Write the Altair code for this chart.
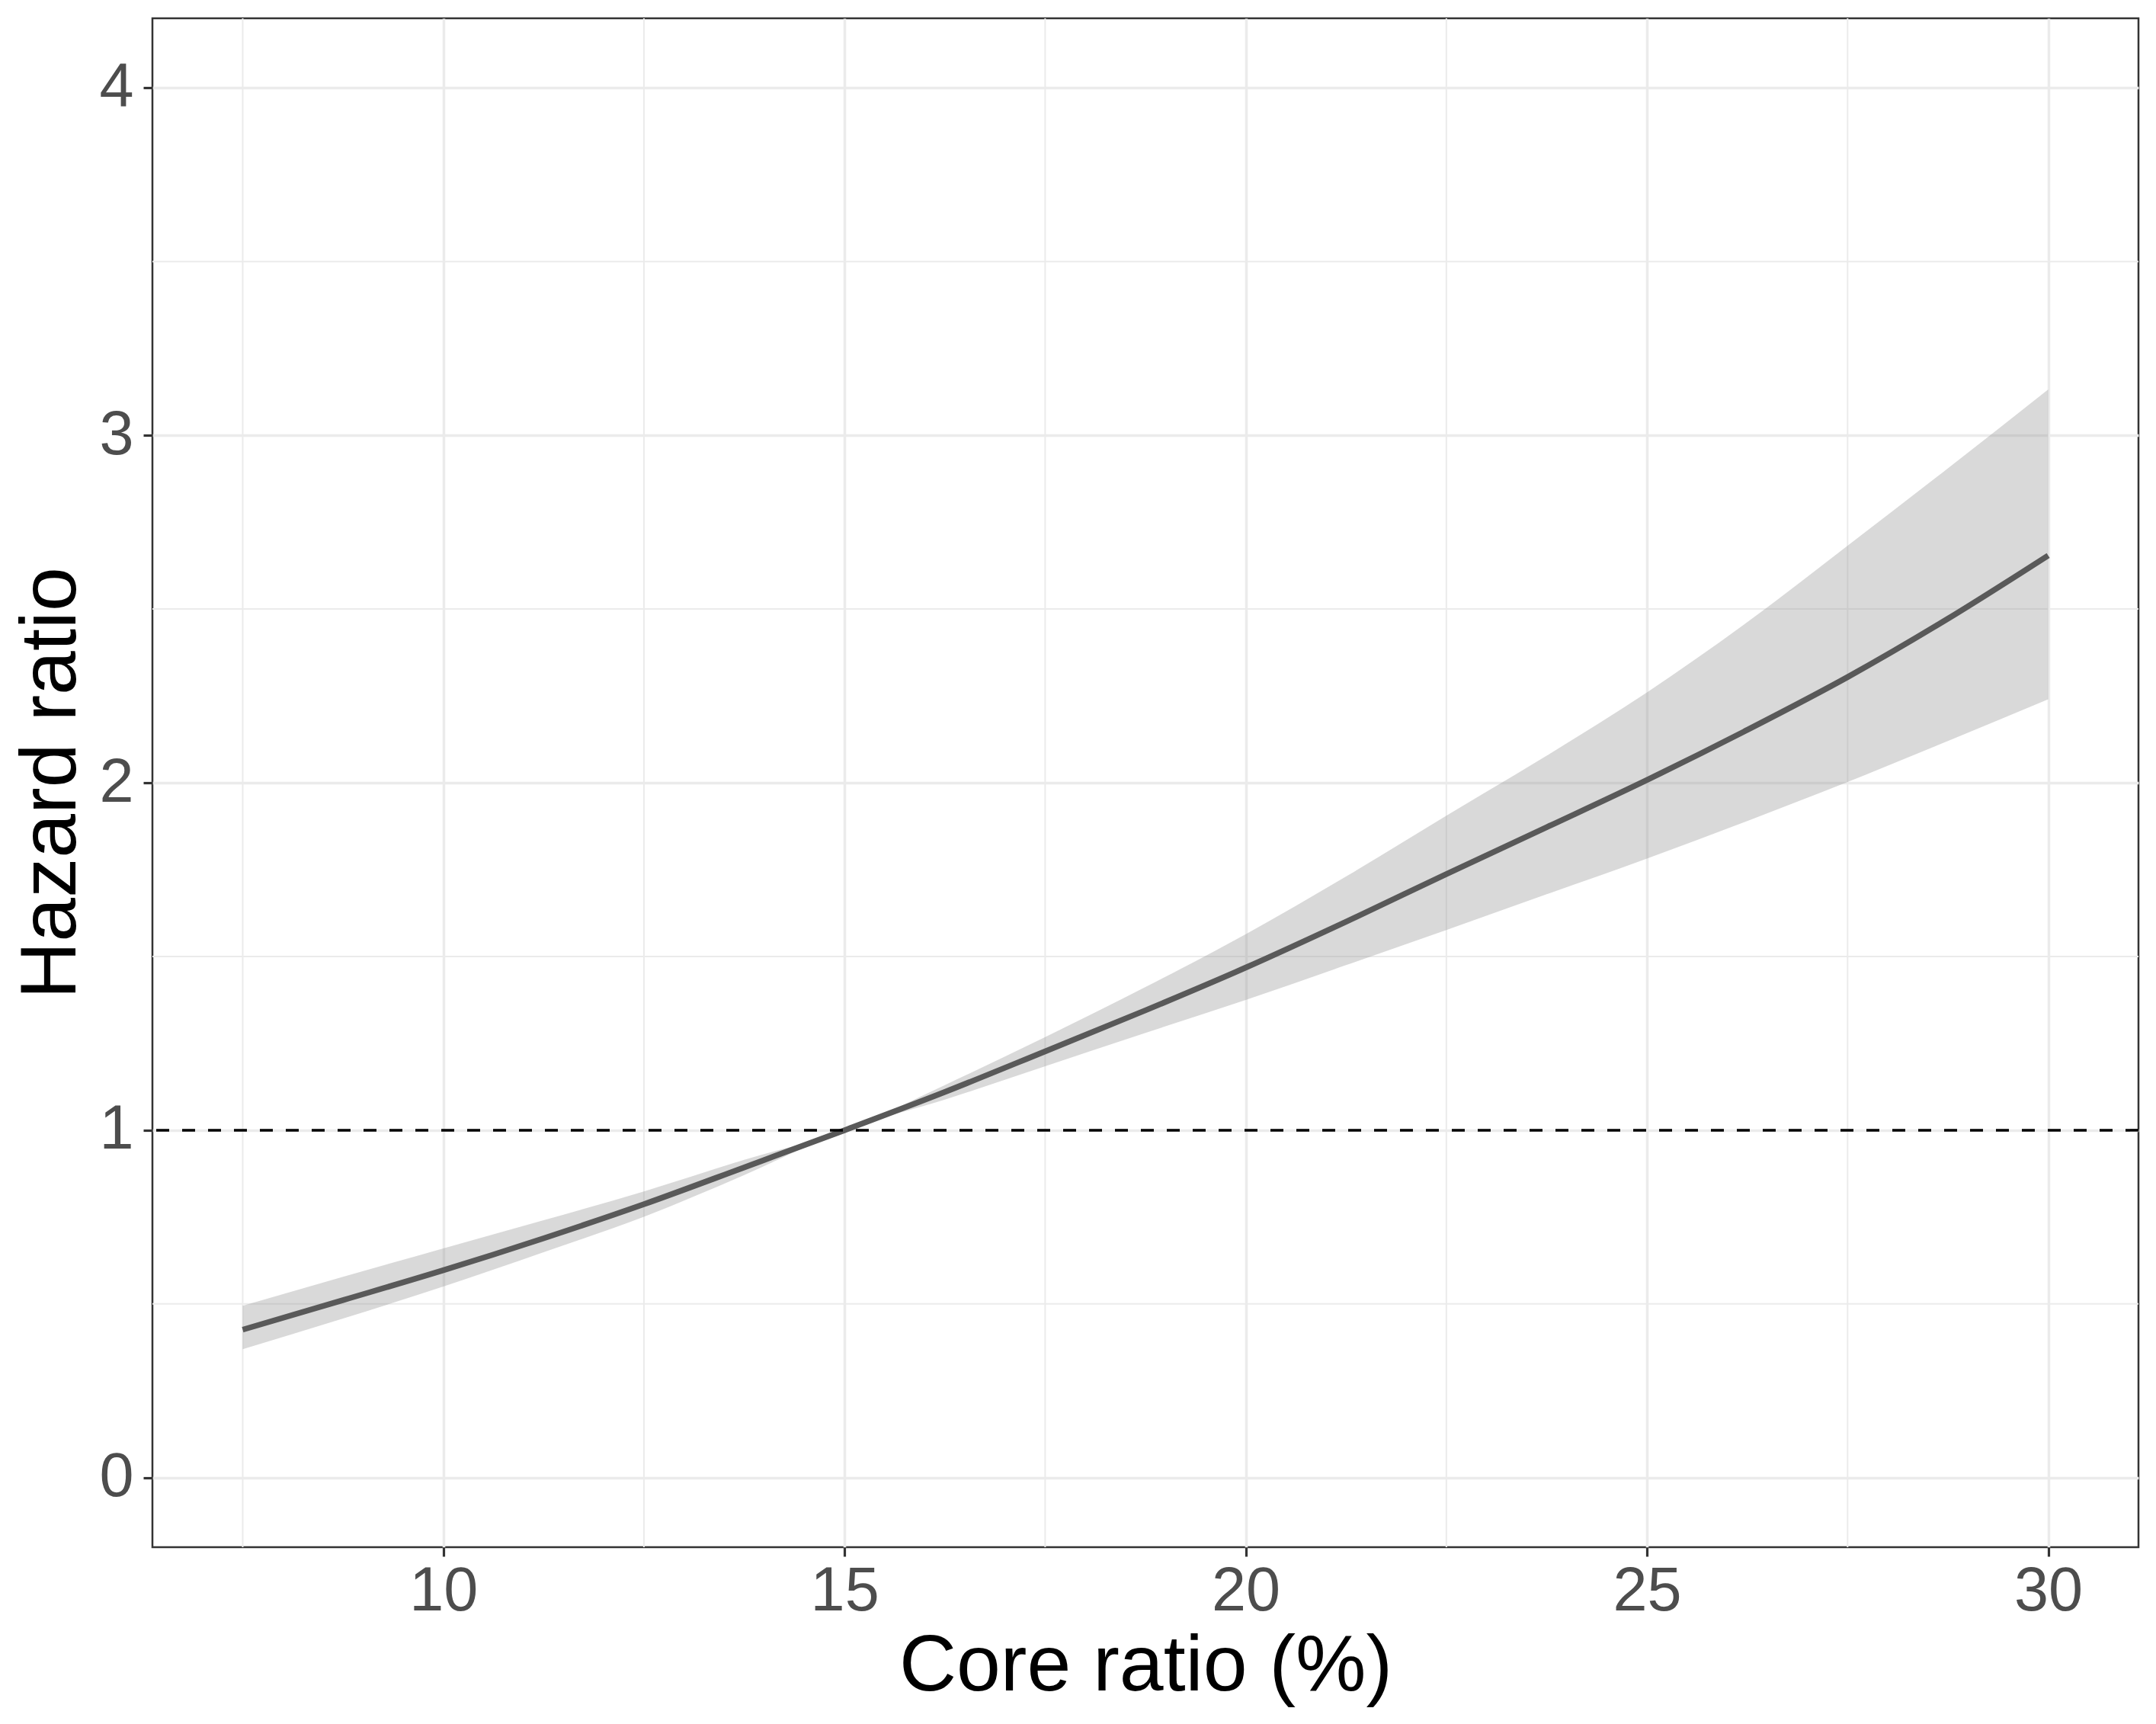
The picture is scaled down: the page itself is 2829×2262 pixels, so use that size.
import altair as alt
import pandas as pd

# Data
core_ratio = [7.5, 8.75, 10, 11.25, 12.5, 13.75, 15, 16.25, 17.5, 18.75, 20,
              21.25, 22.5, 23.75, 25, 26.25, 27.5, 28.75, 30]
hazard = [0.426, 0.511, 0.597, 0.689, 0.787, 0.893, 1.0, 1.110, 1.227, 1.345, 1.468,
          1.600, 1.737, 1.872, 2.008, 2.152, 2.304, 2.472, 2.654]
lower = [0.370, 0.458, 0.550, 0.649, 0.751, 0.871, 1.0, 1.088, 1.184, 1.280, 1.375,
         1.475, 1.576, 1.679, 1.782, 1.890, 2.002, 2.120, 2.240]
upper = [0.495, 0.578, 0.660, 0.741, 0.824, 0.915, 1.0, 1.130, 1.268, 1.412, 1.564,
         1.730, 1.905, 2.078, 2.260, 2.462, 2.682, 2.905, 3.132]

x_ticks = [10, 15, 20, 25, 30]
y_ticks = [0, 1, 2, 3, 4]
x_minor = [7.5, 12.5, 17.5, 22.5, 27.5]
y_minor = [0.5, 1.5, 2.5, 3.5]
ref_line = [1.0]

df = pd.DataFrame({"x": core_ratio, "hr": hazard, "lo": lower, "hi": upper})
df_xm = pd.DataFrame({"x": x_minor})
df_ym = pd.DataFrame({"hr": y_minor})
df_ref = pd.DataFrame({"hr": ref_line})

FONT = "Liberation Sans"
GRID = "#EBEBEB"

x_scale = alt.Scale(domain=[6.375, 31.125], nice=False, zero=False)
y_scale = alt.Scale(domain=[-0.2, 4.2], nice=False, zero=False)

x_axis = alt.Axis(values=x_ticks, format="d", grid=True, gridColor=GRID, gridWidth=3.5,
                  domain=False, ticks=True, tickSize=12, tickWidth=3.2, tickColor="#333333",
                  labelFont=FONT, labelFontSize=81, labelColor="#4D4D4D", labelPadding=6,
                  titleFont=FONT, titleFontSize=104, titleColor="black", titleFontWeight="normal",
                  titleBaseline="alphabetic", titleY=187)
y_axis = alt.Axis(values=y_ticks, format="d", grid=True, gridColor=GRID, gridWidth=3.5,
                  domain=False, ticks=True, tickSize=12, tickWidth=3.2, tickColor="#333333",
                  labelFont=FONT, labelFontSize=81, labelColor="#4D4D4D", labelPadding=13,
                  titleFont=FONT, titleFontSize=104, titleColor="black", titleFontWeight="normal",
                  titleBaseline="alphabetic", titleX=-102)

X = lambda f: alt.X(f, type="quantitative", scale=x_scale, axis=x_axis, title="Core ratio (%)")
Y = lambda f: alt.Y(f, type="quantitative", scale=y_scale, axis=y_axis, title="Hazard ratio")

minor_x = alt.Chart(df_xm).mark_rule(color=GRID, strokeWidth=2).encode(x=X("x"))
minor_y = alt.Chart(df_ym).mark_rule(color=GRID, strokeWidth=2).encode(y=Y("hr"))

band = alt.Chart(df).mark_area(color="#999999", opacity=0.37, interpolate="monotone").encode(
    x=X("x"), y=Y("lo"), y2="hi")
line = alt.Chart(df).mark_line(color="#595959", strokeWidth=7.5, strokeCap="butt",
                               interpolate="monotone").encode(x=X("x"), y=Y("hr"))
ref = alt.Chart(df_ref).mark_rule(color="black", strokeWidth=3.5, strokeDash=[17, 17]).encode(
    y=Y("hr"))

chart = alt.layer(minor_x, minor_y, band, line, ref).properties(
    width=2606, height=2006,
    autosize=alt.AutoSizeParams(type="none"),
    padding={"left": 192, "top": 16, "right": 15, "bottom": 224},
    background="white",
).configure_view(stroke="#333333", strokeWidth=2.5)

chart.save("out.html", embed_options={"renderer": "svg", "actions": False})
